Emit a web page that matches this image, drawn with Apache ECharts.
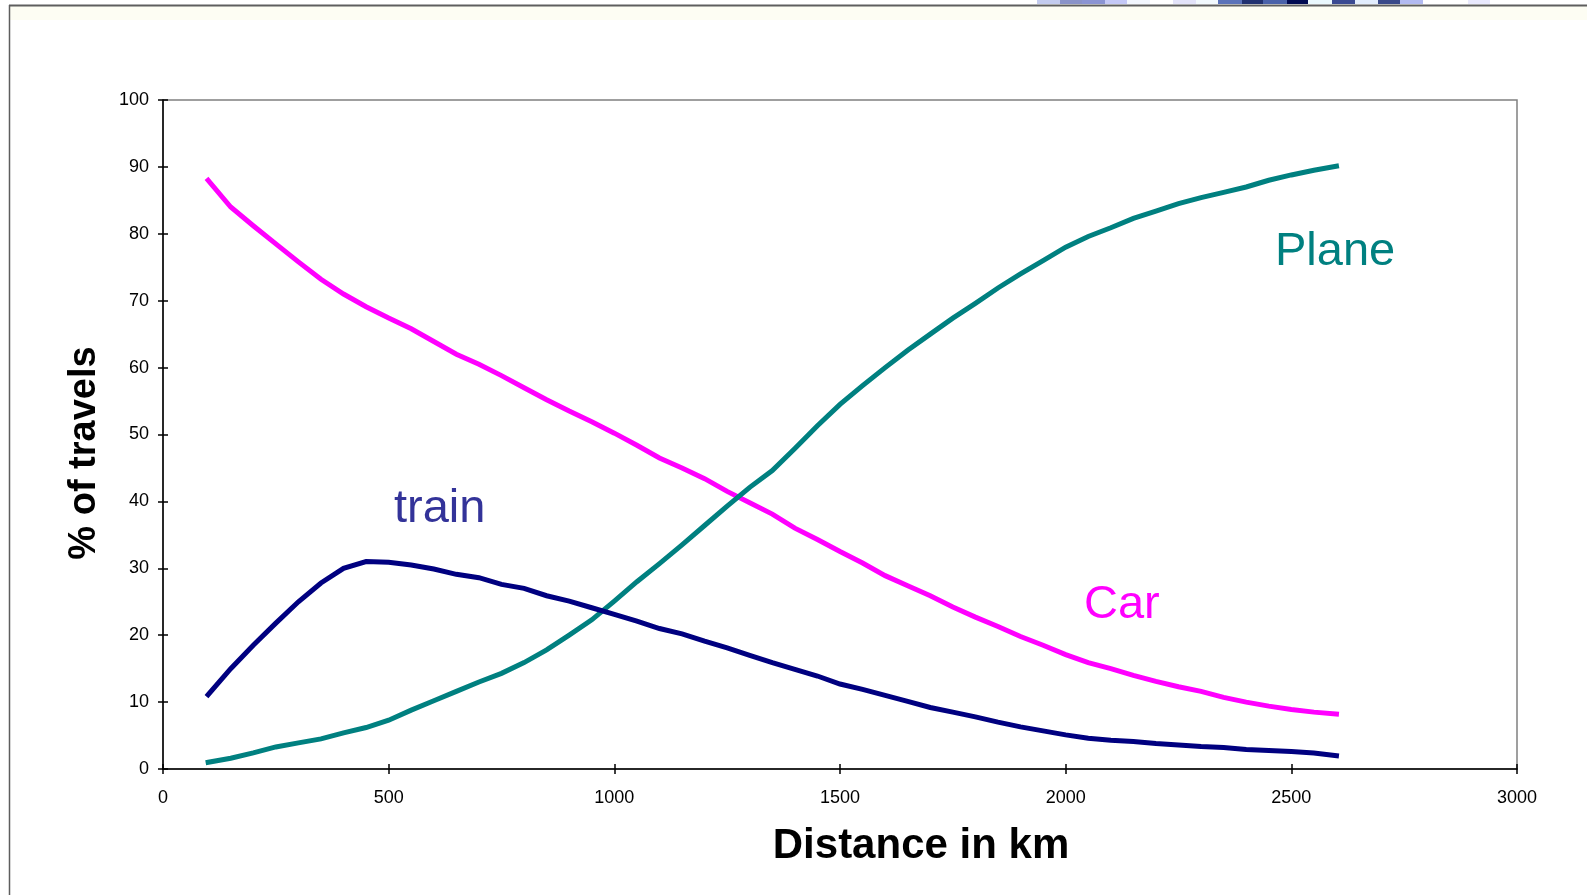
<!DOCTYPE html>
<html>
<head>
<meta charset="utf-8">
<script src="https://cdn.jsdelivr.net/npm/echarts@6/dist/echarts.min.js"></script>
<style>
  html, body { margin: 0; padding: 0; background: #ffffff; }
  #chart { width: 1587px; height: 895px; }
</style>
</head>
<body>
<div id="chart"></div>
<script>
// Distances (km) at which the modal shares were sampled
const distanceKm = [100, 150, 200, 250, 300, 350, 400, 450, 500, 550, 600, 650, 700, 750, 800, 850, 900, 950,
  1000, 1050, 1100, 1150, 1200, 1250, 1300, 1350, 1400, 1450, 1500, 1550, 1600, 1650, 1700, 1750, 1800, 1850,
  1900, 1950, 2000, 2050, 2100, 2150, 2200, 2250, 2300, 2350, 2400, 2450, 2500, 2550, 2600];

// Share of travels (%) by mode
const carShare = [88.0, 84.0, 81.2, 78.5, 75.8, 73.2, 71.0, 69.1, 67.4, 65.8, 63.9, 62.0, 60.5, 58.8, 57.0, 55.2, 53.5, 51.9,
  50.2, 48.4, 46.5, 45.0, 43.4, 41.5, 39.8, 38.1, 36.0, 34.3, 32.5, 30.8, 28.9, 27.4, 25.9, 24.2, 22.7, 21.3,
  19.8, 18.5, 17.1, 15.9, 15.0, 14.0, 13.1, 12.3, 11.6, 10.7, 10.0, 9.4, 8.9, 8.5, 8.2];

const planeShare = [1.0, 1.6, 2.4, 3.3, 3.9, 4.5, 5.4, 6.2, 7.3, 8.8, 10.2, 11.6, 13.0, 14.3, 15.9, 17.8, 20.0, 22.3,
  25.1, 28.0, 30.7, 33.5, 36.4, 39.3, 42.1, 44.6, 47.9, 51.3, 54.5, 57.3, 60.0, 62.6, 65.0, 67.4, 69.6, 71.9,
  74.0, 76.0, 78.0, 79.6, 80.9, 82.3, 83.4, 84.5, 85.4, 86.2, 87.0, 88.0, 88.8, 89.5, 90.1];

const trainShare = [11.1, 15.0, 18.5, 21.8, 25.0, 27.8, 30.0, 31.0, 30.9, 30.5, 29.9, 29.1, 28.6, 27.6, 27.0, 25.9, 25.1, 24.1,
  23.1, 22.1, 21.0, 20.2, 19.1, 18.1, 17.0, 15.9, 14.9, 13.9, 12.7, 11.9, 11.0, 10.1, 9.2, 8.5, 7.8, 7.0,
  6.3, 5.7, 5.1, 4.6, 4.3, 4.1, 3.8, 3.6, 3.35, 3.2, 2.9, 2.75, 2.6, 2.4, 2.0];

// Axis tick labels
const xTicks = [0, 500, 1000, 1500, 2000, 2500, 3000];
const yTicks = [0, 10, 20, 30, 40, 50, 60, 70, 80, 90, 100];

const FONT = '"Liberation Sans", Arial, Helvetica, sans-serif';

function pairs(ys) { return distanceKm.map((d, i) => [d, ys[i]]); }

function lineSeries(name, ys, color) {
  return {
    name: name, type: 'line', data: pairs(ys), showSymbol: false, symbol: 'none',
    lineStyle: { color: color, width: 5, cap: 'square', join: 'miter' },
    itemStyle: { color: color }, animation: false, z: 3
  };
}

// Decorative template strip along the top edge
const stripBlocks = [
  [1037, 23, '#c3cbee'], [1060, 22, '#8a93c9'], [1082, 23, '#8b94d3'], [1105, 22, '#c4c8f6'],
  [1127, 23, '#f2f6fd'], [1173, 23, '#e3e3f9'], [1196, 22, '#f2f9fd'], [1218, 24, '#5a72b9'],
  [1242, 21, '#213170'], [1263, 24, '#4a62aa'], [1287, 21, '#000a52'], [1308, 24, '#eaf8fd'],
  [1332, 23, '#3a4a92'], [1355, 23, '#e2edfd'], [1378, 22, '#3a4a8a'], [1400, 23, '#b2baf1'],
  [1468, 22, '#e9e9fd']
];

const chart = echarts.init(document.getElementById('chart'), null, { renderer: 'canvas' });

const xCommon = { type: 'value', min: 0, max: 3000, interval: 500, splitLine: { show: false } };
const yCommon = { type: 'value', min: 0, max: 100, interval: 10, splitLine: { show: false } };

const graphics = [];
stripBlocks.forEach(b => {
  graphics.push({ type: 'rect', shape: { x: b[0], y: 0, width: b[1], height: 4 }, style: { fill: b[2] }, silent: true });
});
graphics.push(
  { type: 'rect', shape: { x: 10, y: 6, width: 1577, height: 14 }, style: { fill: '#fdfdf3' }, silent: true, z: -1 },
  { type: 'line', shape: { x1: 9, y1: 5.5, x2: 1587, y2: 5.5 }, style: { stroke: '#5e5e5e', lineWidth: 2 }, silent: true },
  { type: 'line', shape: { x1: 9.5, y1: 5, x2: 9.5, y2: 895 }, style: { stroke: '#5e5e5e', lineWidth: 1.5 }, silent: true },
  { type: 'text', x: 1275, y: 252, style: { text: 'Plane', fill: '#008080', font: '47px ' + FONT, textVerticalAlign: 'middle' } },
  { type: 'text', x: 1084, y: 605, style: { text: 'Car', fill: '#ff00ff', font: '47px ' + FONT, textVerticalAlign: 'middle' } },
  { type: 'text', x: 394, y: 509, style: { text: 'train', fill: '#333399', font: '47px ' + FONT, textVerticalAlign: 'middle' } },
  { type: 'text', x: 921, y: 846, style: { text: 'Distance in km', fill: '#000000', font: 'bold 42px ' + FONT, textAlign: 'center', textVerticalAlign: 'middle' } },
  { type: 'text', x: 85, y: 453, rotation: Math.PI / 2, style: { text: '% of travels', fill: '#000000', font: 'bold 38px ' + FONT, textAlign: 'center', textVerticalAlign: 'middle' } }
);

chart.setOption({
  backgroundColor: '#ffffff',
  animation: false,
  grid: { left: 163, right: 70, top: 100, bottom: 126, show: true, borderColor: '#808080', borderWidth: 1.5, backgroundColor: 'transparent' },
  xAxis: [
    Object.assign({}, xCommon, {
      position: 'bottom',
      axisLine: { show: true, onZero: false, lineStyle: { color: '#000000', width: 1.5 } },
      axisTick: { show: true, length: 5, lineStyle: { color: '#000000', width: 1.5 } },
      axisLabel: { show: true, margin: 20, color: '#000000', fontSize: 18, fontFamily: FONT,
        formatter: v => xTicks.indexOf(v) >= 0 ? String(v) : '' }
    }),
    Object.assign({}, xCommon, {
      position: 'bottom',
      axisLine: { show: false },
      axisTick: { show: true, inside: true, length: 5, lineStyle: { color: '#000000', width: 1.5 } },
      axisLabel: { show: false }
    })
  ],
  yAxis: [
    Object.assign({}, yCommon, {
      position: 'left',
      axisLine: { show: true, onZero: false, lineStyle: { color: '#000000', width: 1.5 } },
      axisTick: { show: true, length: 5, lineStyle: { color: '#000000', width: 1.5 } },
      axisLabel: { show: true, margin: 14, color: '#000000', fontSize: 18, fontFamily: FONT,
        formatter: v => yTicks.indexOf(v) >= 0 ? String(v) : '' }
    }),
    Object.assign({}, yCommon, {
      position: 'left',
      axisLine: { show: false },
      axisTick: { show: true, inside: true, length: 5, lineStyle: { color: '#000000', width: 1.5 } },
      axisLabel: { show: false }
    })
  ],
  series: [
    lineSeries('Car', carShare, '#ff00ff'),
    lineSeries('Plane', planeShare, '#008080'),
    lineSeries('train', trainShare, '#000080')
  ],
  graphic: graphics
});
</script>
</body>
</html>
